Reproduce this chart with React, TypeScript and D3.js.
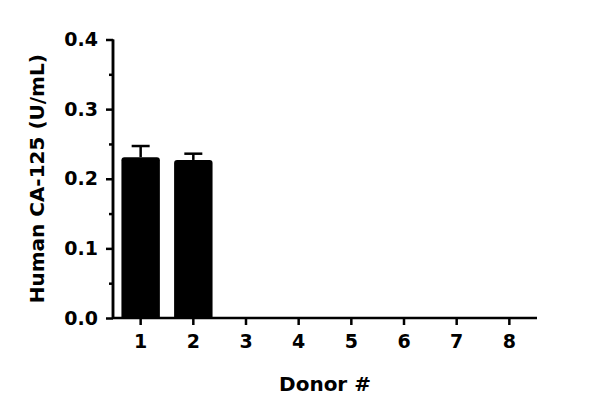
import * as d3 from "d3";
import { useEffect, useRef } from "react";

const donors = ["1", "2", "3", "4", "5", "6", "7", "8"];
const means = [0.231, 0.227, 0, 0, 0, 0, 0, 0];
const errors = [0.016, 0.009, 0, 0, 0, 0, 0, 0];
const yTicks = [0, 0.1, 0.2, 0.3, 0.4];
const yMinorTicks = [0.05, 0.15, 0.25, 0.35];

const svgWidth = 600;
const svgHeight = 414;
const left = 113;
const right = 537;
const top = 39.5;
const bottom = 318;
const font = "'DejaVu Sans', sans-serif";

const App = () => {
    const svgRef = useRef<SVGSVGElement>(null);

    useEffect(() => {
        if (svgRef.current) {
            drawChart();
        }
    }, [svgRef]);

    const drawChart = () => {
        const svg = d3.select(svgRef.current);
        svg.selectAll("*").remove();

        const scaleX = d3.scaleBand().domain(donors).range([left, right]).paddingInner(0.27).paddingOuter(0.16);
        const scaleY = d3.scaleLinear().domain([0, 0.4]).range([bottom, top]);

        // bars with rounded top corners
        const r = 3;
        const bars = donors
            .map((d, i) => ({ d, v: means[i], e: errors[i] }))
            .filter((b) => b.v > 0);

        svg.append("g")
            .selectAll("path")
            .data(bars)
            .join("path")
            .attr("fill", "#000")
            .attr("d", (b) => {
                const x0 = scaleX(b.d) as number;
                const x1 = x0 + scaleX.bandwidth();
                const y0 = scaleY(b.v);
                return `M${x0},${bottom}V${y0 + r}Q${x0},${y0} ${x0 + r},${y0}H${x1 - r}Q${x1},${y0} ${x1},${y0 + r}V${bottom}Z`;
            });

        // error bars, upper half only
        const errG = svg.append("g").attr("stroke", "#000").attr("stroke-width", 2.5).attr("fill", "none");
        bars.forEach((b) => {
            const cx = (scaleX(b.d) as number) + scaleX.bandwidth() / 2;
            const yTop = scaleY(b.v + b.e);
            errG.append("line").attr("x1", cx).attr("x2", cx).attr("y1", scaleY(b.v)).attr("y2", yTop);
            errG.append("line").attr("x1", cx - 9).attr("x2", cx + 9).attr("y1", yTop).attr("y2", yTop);
        });

        // y axis
        const yAxis = svg.append("g").attr("transform", `translate(${left},0)`);
        yAxis.call(
            d3.axisLeft(scaleY).tickValues(yTicks).tickSize(7).tickPadding(8).tickFormat((d) => d3.format(".1f")(d as number))
        );
        yAxis.append("g").call(d3.axisLeft(scaleY).tickValues(yMinorTicks).tickSize(4).tickFormat(() => ""));
        yAxis.selectAll(".domain").attr("stroke-width", 2.5).attr("d", `M0,${top}V${bottom}`);
        yAxis.selectAll("line").attr("stroke-width", 2.5);
        yAxis.selectAll("text")
            .attr("font-family", font)
            .attr("font-weight", "bold")
            .attr("font-size", 19)
            .attr("fill", "#000");

        // x axis
        const xAxis = svg.append("g").attr("transform", `translate(0,${bottom})`);
        xAxis.call(d3.axisBottom(scaleX).tickSize(7).tickPadding(10));
        xAxis.selectAll(".domain").attr("stroke-width", 2.5).attr("d", `M${left},0H${right}`);
        xAxis.selectAll("line").attr("stroke-width", 2.5);
        xAxis.selectAll("text")
            .attr("font-family", font)
            .attr("font-weight", "bold")
            .attr("font-size", 19)
            .attr("fill", "#000");

        // axis titles
        svg.append("text")
            .attr("x", (left + right) / 2)
            .attr("y", 391)
            .attr("text-anchor", "middle")
            .attr("font-family", font)
            .attr("font-weight", "bold")
            .attr("font-size", 20)
            .text("Donor #");

        svg.append("text")
            .attr("transform", `translate(44,${(top + bottom) / 2}) rotate(-90)`)
            .attr("text-anchor", "middle")
            .attr("font-family", font)
            .attr("font-weight", "bold")
            .attr("font-size", 20)
            .text("Human CA-125 (U/mL)");
    };

    return (
        <div style={{ position: "absolute", left: 0, top: 0 }}>
            <svg ref={svgRef} width={svgWidth} height={svgHeight} style={{ display: "block", background: "#fff" }} />
        </div>
    );
};

export default App;
